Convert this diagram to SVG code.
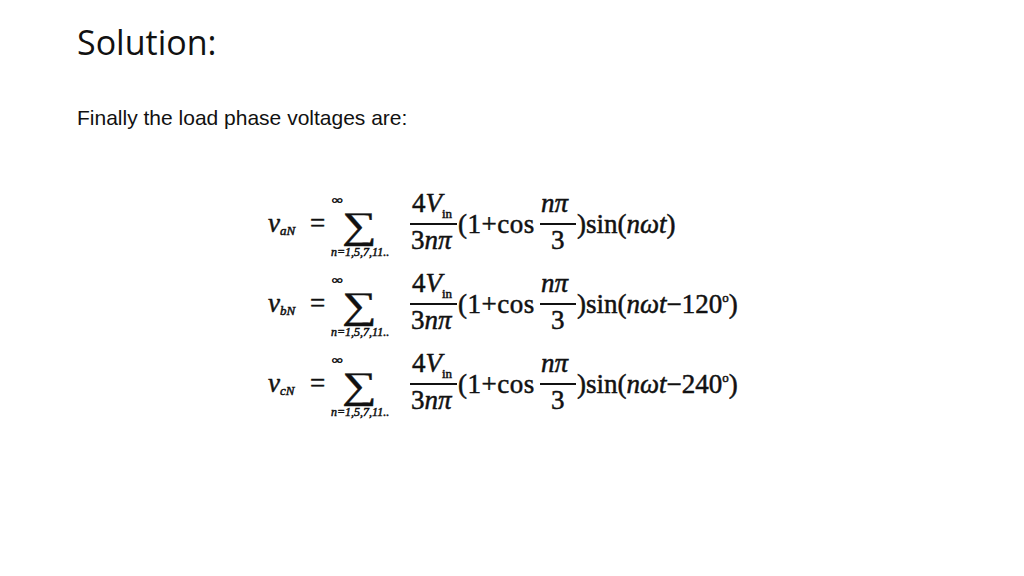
<svg xmlns="http://www.w3.org/2000/svg" width="1024" height="576" viewBox="0 0 1024 576">
<style>
.t{font-family:"Liberation Serif",serif;font-size:27px;fill:#111;stroke:#111;stroke-width:0.5}
.i{font-style:italic}
.s{font-size:12px}
.sm{font-size:13px}
.b{font-size:44px}
.ln{stroke:#111;stroke-width:1.8}
</style>
<rect width="1024" height="576" fill="#fff"/>
<text x="77" y="55" font-family="Open Sans, sans-serif" font-size="34" fill="#111">Solution:</text>
<text x="77" y="125" font-family="Liberation Sans, sans-serif" font-size="21" fill="#111">Finally the load phase voltages are:</text>
<g id="eq1" transform="translate(0,0)">
<text class="t i" x="268" y="232">v<tspan class="sm" dy="3">aN</tspan></text>
<text class="t" x="310" y="232">=</text>
<text class="t s" x="336" y="204" transform="translate(350,0) scale(1.3,1) translate(-350,0)">∞</text>
<text class="t b" x="342" y="238" transform="translate(342,238) scale(1.1,0.85) translate(-342,-238)">∑</text>
<text class="t s i" x="331" y="256">n=1,5,7,11..</text>
<text class="t" x="412" y="212">4<tspan class="i">V</tspan><tspan class="sm" dy="6">in</tspan></text>
<line class="ln" x1="410" y1="224" x2="457" y2="224"/>
<text class="t" x="411" y="249">3<tspan class="i">nπ</tspan></text>
<text class="t" x="458" y="233" letter-spacing="0.5">(1+cos</text>
<text class="t i" x="541" y="212">nπ</text>
<line class="ln" x1="540" y1="224" x2="576" y2="224"/>
<text class="t" x="551" y="249">3</text>
<text class="t" x="577" y="233">)sin(<tspan class="i">nωt</tspan>)</text>
</g>
<g id="eq2" transform="translate(0,80)">
<text class="t i" x="268" y="232">v<tspan class="sm" dy="3">bN</tspan></text>
<text class="t" x="310" y="232">=</text>
<text class="t s" x="336" y="204" transform="translate(350,0) scale(1.3,1) translate(-350,0)">∞</text>
<text class="t b" x="342" y="238" transform="translate(342,238) scale(1.1,0.85) translate(-342,-238)">∑</text>
<text class="t s i" x="331" y="256">n=1,5,7,11..</text>
<text class="t" x="412" y="212">4<tspan class="i">V</tspan><tspan class="sm" dy="6">in</tspan></text>
<line class="ln" x1="410" y1="224" x2="457" y2="224"/>
<text class="t" x="411" y="249">3<tspan class="i">nπ</tspan></text>
<text class="t" x="458" y="233" letter-spacing="0.5">(1+cos</text>
<text class="t i" x="541" y="212">nπ</text>
<line class="ln" x1="540" y1="224" x2="576" y2="224"/>
<text class="t" x="551" y="249">3</text>
<text class="t" x="577" y="233">)sin(<tspan class="i">nωt</tspan>−120<tspan class="sm" dy="-11">o</tspan><tspan dy="11">)</tspan></text>
</g>
<g id="eq3" transform="translate(0,160)">
<text class="t i" x="268" y="232">v<tspan class="sm" dy="3">cN</tspan></text>
<text class="t" x="310" y="232">=</text>
<text class="t s" x="336" y="204" transform="translate(350,0) scale(1.3,1) translate(-350,0)">∞</text>
<text class="t b" x="342" y="238" transform="translate(342,238) scale(1.1,0.85) translate(-342,-238)">∑</text>
<text class="t s i" x="331" y="256">n=1,5,7,11..</text>
<text class="t" x="412" y="212">4<tspan class="i">V</tspan><tspan class="sm" dy="6">in</tspan></text>
<line class="ln" x1="410" y1="224" x2="457" y2="224"/>
<text class="t" x="411" y="249">3<tspan class="i">nπ</tspan></text>
<text class="t" x="458" y="233" letter-spacing="0.5">(1+cos</text>
<text class="t i" x="541" y="212">nπ</text>
<line class="ln" x1="540" y1="224" x2="576" y2="224"/>
<text class="t" x="551" y="249">3</text>
<text class="t" x="577" y="233">)sin(<tspan class="i">nωt</tspan>−240<tspan class="sm" dy="-11">o</tspan><tspan dy="11">)</tspan></text>
</g>
</svg>
